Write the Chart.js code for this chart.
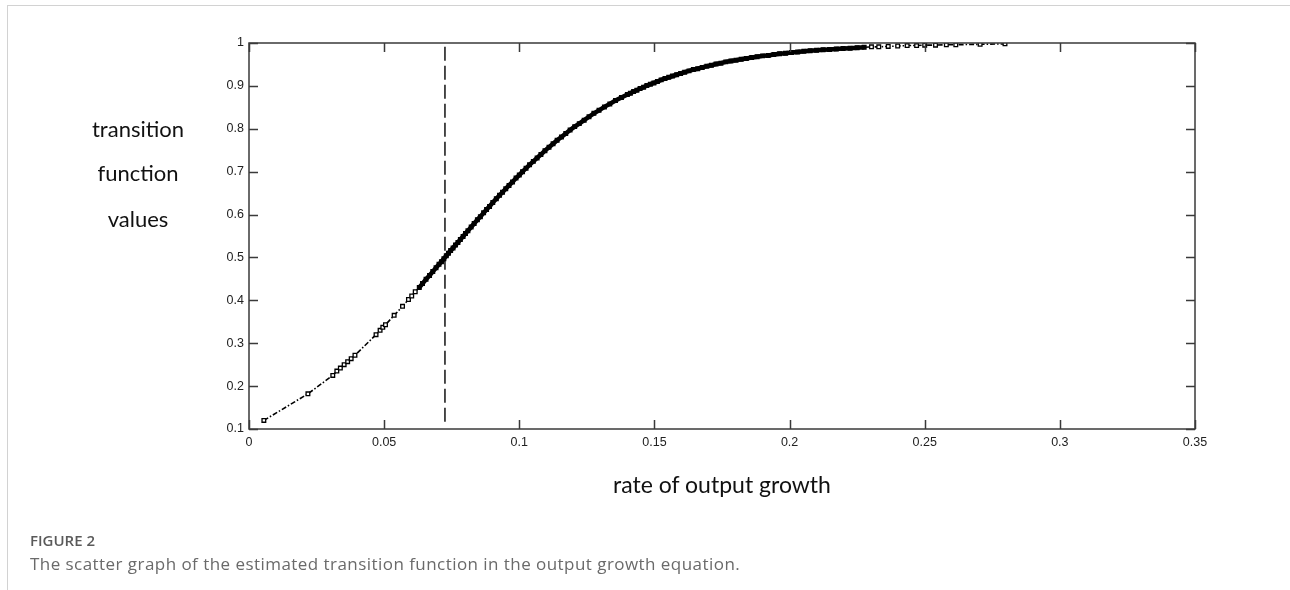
<!DOCTYPE html>
<html>
<head>
<meta charset="utf-8">
<script src="https://cdn.jsdelivr.net/npm/chart.js@4.4.1/dist/chart.umd.min.js"></script>
<style>
  html, body { margin: 0; padding: 0; background: #fff; }
  body { width: 1290px; height: 590px; position: relative; overflow: hidden; }
  #frame { position: absolute; left: 7px; top: 5px; width: 1290px; height: 600px;
           border-top: 1.5px solid #d2d2d2; border-left: 1.5px solid #d2d2d2; }
  #cv { position: absolute; left: 0; top: 0; }
  .lbl { position: absolute; font-family: Lato, "Open Sans", sans-serif; color: #111; white-space: nowrap; }
  .ylab { font-size: 22px; transform: translate(-50%, -50%); }
  #xt { font-size: 23px; left: 722px; top: 484px; transform: translate(-50%, -50%); }
  #cap1 { position: absolute; left: 30px; top: 530px; font-family: "Open Sans", sans-serif; font-weight: 600; font-size: 15px; color: #5a5a5a; }
  #cap2 { position: absolute; left: 30px; top: 552px; font-family: "Open Sans", sans-serif; font-size: 17px; letter-spacing: 0.45px; color: #6a6a6a; }
</style>
</head>
<body>
<div id="frame"></div>
<canvas id="cv" width="1290" height="590"></canvas>
<div class="lbl ylab" style="left:138px; top:128px;">transition</div>
<div class="lbl ylab" style="left:138px; top:172px;">function</div>
<div class="lbl ylab" style="left:138px; top:218px;">values</div>
<div class="lbl" id="xt">rate of output growth</div>
<div id="cap1">FIGURE 2</div>
<div id="cap2">The scatter graph of the estimated transition function in the output growth equation.</div>
<script>
// ---- data ----
const growthRate = [
  0.0055, 0.0218, 0.0310, 0.0325, 0.0338, 0.0352, 0.0365, 0.0378, 0.0392,
  0.0470, 0.0485, 0.0495, 0.0505, 0.0537, 0.0568, 0.0590, 0.0602, 0.0615,
  0.0630, 0.0642, 0.0655, 0.0668, 0.0680, 0.0692, 0.0703, 0.0712, 0.0721,
  0.0730, 0.0738, 0.0746, 0.0755, 0.0764, 0.0773, 0.0782, 0.0792, 0.0801,
  0.0810, 0.0822, 0.0833, 0.0845, 0.0856, 0.0868, 0.0879, 0.0890, 0.0902,
  0.0915, 0.0927, 0.0938, 0.0950, 0.0962, 0.0975, 0.0988, 0.1000, 0.1012,
  0.1025, 0.1038, 0.1052, 0.1066, 0.1080, 0.1095, 0.1110, 0.1125, 0.1140,
  0.1156, 0.1172, 0.1188, 0.1205, 0.1222, 0.1240, 0.1258, 0.1276, 0.1295,
  0.1315, 0.1335, 0.1356, 0.1378, 0.1400, 0.1411, 0.1423, 0.1435, 0.1447,
  0.1460, 0.1472, 0.1485, 0.1498, 0.1511, 0.1525, 0.1539, 0.1553, 0.1567,
  0.1582, 0.1597, 0.1612, 0.1628, 0.1644, 0.1660, 0.1677, 0.1694, 0.1711,
  0.1728, 0.1746, 0.1764, 0.1783, 0.1802, 0.1821, 0.1840, 0.1860, 0.1880,
  0.1900, 0.1921, 0.1942, 0.1963, 0.1985, 0.2007, 0.2030, 0.2053, 0.2076,
  0.2100, 0.2124, 0.2148, 0.2173, 0.2198, 0.2224, 0.2250, 0.2276, 0.2303,
  0.2330, 0.2365, 0.2400, 0.2435, 0.2470, 0.2500, 0.2540, 0.2580, 0.2615,
  0.2705, 0.2797
];
const transitionValue = [
  0.120, 0.182, 0.225, 0.235, 0.242, 0.250, 0.257, 0.264, 0.272,
  0.320, 0.330, 0.337, 0.343, 0.365, 0.386, 0.402, 0.410, 0.420,
  0.430, 0.439, 0.449, 0.458, 0.467, 0.476, 0.484, 0.490, 0.497,
  0.504, 0.510, 0.516, 0.522, 0.529, 0.535, 0.542, 0.549, 0.556,
  0.562, 0.571, 0.579, 0.588, 0.595, 0.604, 0.612, 0.619, 0.628,
  0.637, 0.645, 0.652, 0.660, 0.668, 0.676, 0.685, 0.692, 0.700,
  0.708, 0.716, 0.724, 0.732, 0.740, 0.749, 0.757, 0.765, 0.773,
  0.781, 0.789, 0.797, 0.805, 0.812, 0.820, 0.828, 0.836, 0.843,
  0.851, 0.858, 0.866, 0.873, 0.880, 0.883, 0.887, 0.890, 0.894,
  0.897, 0.901, 0.904, 0.907, 0.910, 0.914, 0.917, 0.920, 0.923,
  0.926, 0.929, 0.932, 0.935, 0.938, 0.940, 0.943, 0.946, 0.948,
  0.951, 0.953, 0.956, 0.958, 0.960, 0.962, 0.964, 0.966, 0.968,
  0.970, 0.971, 0.973, 0.975, 0.976, 0.978, 0.979, 0.981, 0.982,
  0.983, 0.984, 0.985, 0.986, 0.987, 0.988, 0.989, 0.990, 0.991,
  0.991, 0.992, 0.993, 0.994, 0.994, 0.995, 0.995, 0.996, 0.996,
  0.997, 0.998
];
const thresholdX = [0.0725, 0.0725];
const thresholdY = [0.117, 1.0];
const xTickMin = 0, xTickMax = 0.35, xTickStep = 0.05;
const yTickMin = 0.1, yTickMax = 1.0, yTickStep = 0.1;
// range of growth rates where the observations crowd into a solid band
const denseFrom = 0.0620, denseTo = 0.2276;

const scatterPts = growthRate.map((x, i) => ({ x: x, y: transitionValue[i] }));
const threshPts = thresholdX.map((x, i) => ({ x: x, y: thresholdY[i] }));

const AREA = { left: 249, top: 43, right: 1195, bottom: 429 };
const inDense = x => x >= denseFrom && x <= denseTo;
const fmt = v => String(parseFloat(Number(v).toFixed(2)));

const frameTicks = {
  id: 'frameTicks',
  afterDatasetsDraw(chart) {
    const ctx = chart.ctx, a = chart.chartArea;
    const xs = chart.scales.x, ys = chart.scales.y;
    ctx.save();
    ctx.strokeStyle = '#3a3a3a';
    ctx.lineWidth = 1.5;
    ctx.strokeRect(a.left, a.top, a.right - a.left, a.bottom - a.top);
    const L = 9;
    ctx.beginPath();
    xs.ticks.forEach(t => {
      const px = Math.round(xs.getPixelForValue(t.value)) + 0.5;
      ctx.moveTo(px, a.bottom); ctx.lineTo(px, a.bottom - L);
      ctx.moveTo(px, a.top); ctx.lineTo(px, a.top + L);
    });
    ys.ticks.forEach(t => {
      const py = Math.round(ys.getPixelForValue(t.value)) + 0.5;
      ctx.moveTo(a.left, py); ctx.lineTo(a.left + L, py);
      ctx.moveTo(a.right, py); ctx.lineTo(a.right - L, py);
    });
    ctx.stroke();
    ctx.restore();
  }
};

new Chart(document.getElementById('cv'), {
  type: 'scatter',
  data: {
    datasets: [
      {
        data: scatterPts,
        showLine: true,
        borderColor: '#000',
        borderWidth: 1.6,
        borderDash: [5, 2, 1.5, 2],
        segment: {
          borderWidth: c => (inDense(c.p0.parsed.x) && inDense(c.p1.parsed.x)) ? 4.5 : 1.6,
          borderDash: c => (inDense(c.p0.parsed.x) && inDense(c.p1.parsed.x)) ? [] : [5, 2, 1.5, 2]
        },
        pointStyle: 'rect',
        pointRadius: 2.6,
        pointBorderWidth: 1.3,
        pointBackgroundColor: c => (c.raw && inDense(c.raw.x)) ? '#000' : '#fff',
        pointBorderColor: '#000',
        tension: 0,
        order: 1
      },
      {
        data: threshPts,
        showLine: true,
        borderColor: '#111',
        borderWidth: 1.5,
        borderDash: [14, 5],
        pointRadius: 0,
        order: 2
      }
    ]
  },
  plugins: [frameTicks],
  options: {
    responsive: false,
    animation: false,
    layout: { padding: { left: 0, top: AREA.top, right: 1290 - AREA.right, bottom: 590 - AREA.bottom - 30 } },
    plugins: { legend: { display: false }, tooltip: { enabled: false } },
    scales: {
      x: {
        type: 'linear', min: xTickMin, max: xTickMax,
        ticks: { stepSize: xTickStep, color: '#222', callback: fmt,
                 font: { family: '"Liberation Sans", Arial', size: 12.5 }, padding: 6 },
        grid: { display: false, drawTicks: false },
        border: { display: false },
        afterFit(s) { s.height = 30; }
      },
      y: {
        type: 'linear', min: yTickMin, max: yTickMax,
        ticks: { stepSize: yTickStep, color: '#222', callback: fmt,
                 font: { family: '"Liberation Sans", Arial', size: 12.5 }, padding: 5 },
        grid: { display: false, drawTicks: false },
        border: { display: false },
        afterFit(s) { s.width = AREA.left; }
      }
    }
  }
});
</script>
</body>
</html>
